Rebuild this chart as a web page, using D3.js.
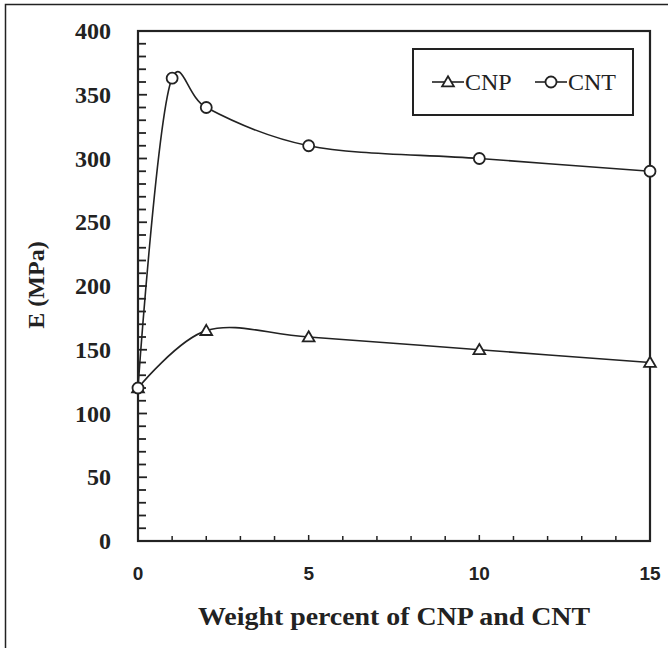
<!DOCTYPE html>
<html>
<head>
<meta charset="utf-8">
<script src="https://cdn.jsdelivr.net/npm/d3@7"></script>
<style>
  html, body { margin: 0; padding: 0; background: #fff; }
  svg { display: block; }
</style>
</head>
<body>
<script>
// Young's modulus vs filler loading
const cnpWeight = [0, 2, 5, 10, 15];
const cnpModulus = [120, 165, 160, 150, 140];
const cntWeight = [0, 1, 2, 5, 10, 15];
const cntModulus = [120, 363, 340, 310, 300, 290];
const xTicks = [0, 5, 10, 15];
const yTicks = [0, 50, 100, 150, 200, 250, 300, 350, 400];
const seriesNames = ["CNP", "CNT"];

const W = 668, H = 648;
const margin = { left: 138, top: 31, right: 650, bottom: 541 };
const ink = "#222";
const serif = "'Liberation Serif', 'DejaVu Serif', serif";
const sans = "'Liberation Sans', Arial, sans-serif";

const svg = d3.select("body").append("svg")
  .attr("width", W).attr("height", H);

// outer frame (left and top edges)
svg.append("path")
  .attr("d", `M5.5,${H} L5.5,4.5 L${W},4.5`)
  .attr("fill", "none").attr("stroke", ink).attr("stroke-width", 1.5);

const x = d3.scaleLinear().domain([0, 15]).range([margin.left, margin.right]);
const y = d3.scaleLinear().domain([0, 400]).range([margin.bottom, margin.top]);

// minor ticks
const g = svg.append("g");
g.selectAll(".ymin").data(d3.range(0, 401, 10)).join("line")
  .attr("x1", margin.left).attr("x2", d => margin.left + (d % 50 === 0 ? 9 : 8))
  .attr("y1", d => y(d)).attr("y2", d => y(d))
  .attr("stroke", ink).attr("stroke-width", 1.8);
g.selectAll(".xmin").data(d3.range(0, 16, 1)).join("line")
  .attr("x1", d => x(d)).attr("x2", d => x(d))
  .attr("y1", margin.bottom).attr("y2", d => margin.bottom - (d % 5 === 0 ? 6 : 5))
  .attr("stroke", ink).attr("stroke-width", 1.5);

// plot frame
svg.append("rect")
  .attr("x", margin.left).attr("y", margin.top)
  .attr("width", margin.right - margin.left).attr("height", margin.bottom - margin.top)
  .attr("fill", "none").attr("stroke", ink).attr("stroke-width", 2.2);

// tick labels
svg.selectAll(".ylab").data(yTicks).join("text")
  .attr("x", 111).attr("y", d => y(d) + 8)
  .attr("text-anchor", "end")
  .attr("font-family", serif).attr("font-weight", "bold").attr("font-size", 24)
  .attr("fill", ink).text(d => d);
svg.selectAll(".xlab").data(xTicks).join("text")
  .attr("x", d => x(d)).attr("y", 580)
  .attr("text-anchor", "middle")
  .attr("font-family", sans).attr("font-weight", "bold").attr("font-size", 19)
  .attr("fill", ink).text(d => d);

// axis titles
svg.append("text")
  .attr("x", 394).attr("y", 625)
  .attr("text-anchor", "middle")
  .attr("font-family", serif).attr("font-weight", "bold").attr("font-size", 25)
  .attr("textLength", 392).attr("lengthAdjust", "spacingAndGlyphs")
  .attr("fill", ink).text("Weight percent of CNP and CNT");
svg.append("text")
  .attr("transform", "translate(44,285) rotate(-90)")
  .attr("text-anchor", "middle")
  .attr("font-family", serif).attr("font-weight", "bold").attr("font-size", 24)
  .attr("fill", ink).text("E (MPa)");

// smoothed series lines
const line = d3.line().curve(d3.curveCatmullRom.alpha(0.2))
  .x(d => x(d[0])).y(d => y(d[1]));
const cnp = d3.zip(cnpWeight, cnpModulus);
const cnt = d3.zip(cntWeight, cntModulus);
[cnp, cnt].forEach(s => {
  svg.append("path").attr("d", line(s))
    .attr("fill", "none").attr("stroke", ink).attr("stroke-width", 1.6);
});

const tri = d3.symbol().type(d3.symbolTriangle).size(60);
function drawTriangles(sel, pts) {
  sel.selectAll(null).data(pts).join("path")
    .attr("d", tri)
    .attr("transform", d => `translate(${d[0]},${d[1] + 1})`)
    .attr("fill", "#fff").attr("stroke", ink).attr("stroke-width", 1.8);
}
function drawCircles(sel, pts) {
  sel.selectAll(null).data(pts).join("circle")
    .attr("cx", d => d[0]).attr("cy", d => d[1]).attr("r", 5.5)
    .attr("fill", "#fff").attr("stroke", ink).attr("stroke-width", 1.8);
}
drawTriangles(svg.append("g"), cnp.map(d => [x(d[0]), y(d[1])]));
drawCircles(svg.append("g"), cnt.map(d => [x(d[0]), y(d[1])]));

// legend
const lg = svg.append("g");
lg.append("rect").attr("x", 413).attr("y", 49).attr("width", 220).attr("height", 66)
  .attr("fill", "#fff").attr("stroke", ink).attr("stroke-width", 2);
const ly = 82;
[[432, seriesNames[0], drawTriangles], [535, seriesNames[1], drawCircles]].forEach(([lx, name, draw]) => {
  lg.append("line").attr("x1", lx).attr("x2", lx + 32).attr("y1", ly).attr("y2", ly)
    .attr("stroke", ink).attr("stroke-width", 1.6);
  draw(lg.append("g"), [[lx + 16, ly]]);
  lg.append("text").attr("x", lx + 33).attr("y", ly + 8)
    .attr("font-family", serif).attr("font-size", 24).attr("fill", ink).text(name);
});
</script>
</body>
</html>
